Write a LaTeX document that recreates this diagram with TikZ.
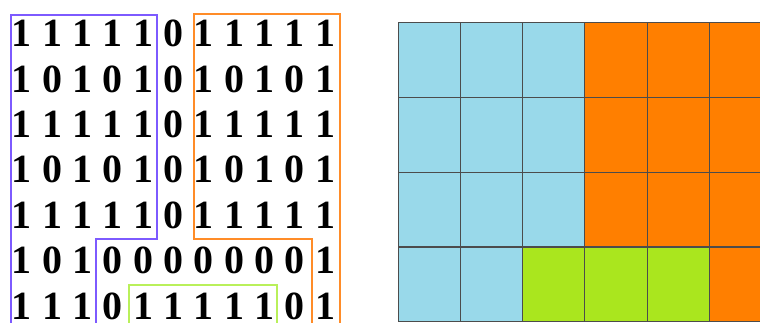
\documentclass[tikz,border=0pt]{standalone}
\usepackage{fontspec}
\setmainfont{Liberation Serif}
\usetikzlibrary{positioning}
\definecolor{mazeBlue}{RGB}{153,217,234}
\definecolor{mazeOrange}{RGB}{255,127,0}
\definecolor{mazeGreen}{RGB}{170,230,30}
\definecolor{pathPurple}{RGB}{125,90,255}
\definecolor{pathOrange}{RGB}{255,140,40}
\definecolor{pathGreen}{RGB}{185,240,90}

\begin{document}
\begin{tikzpicture}[x=1pt, y=-1pt,
    digit/.style={inner sep=0pt, font=\fontsize{40}{40}\selectfont\bfseries},
    outline/.style={line width=1.6pt, line join=miter},
    cell/.style={draw=black!70, line width=1.1pt}
  ]
  \clip (0,0) rectangle (760,323);

  % Bit matrix
  \foreach \r/\bits in {1/{1,1,1,1,1,0,1,1,1,1,1},
                        2/{1,0,1,0,1,0,1,0,1,0,1},
                        3/{1,1,1,1,1,0,1,1,1,1,1},
                        4/{1,0,1,0,1,0,1,0,1,0,1},
                        5/{1,1,1,1,1,0,1,1,1,1,1},
                        6/{1,0,1,0,0,0,0,0,0,0,1},
                        7/{1,1,1,0,1,1,1,1,1,0,1}}
    \foreach \b [count=\c] in \bits
      \node[digit] (d\r-\c) at ({22+30.3*(\c-1)}, {33.5+45.4*(\r-1)}) {\b};

  % Region outlines
  \draw[outline, pathPurple] (11,323) -- (11,15) -- (157,15) -- (157,239) -- (96,239) -- (96,323);
  \draw[outline, pathOrange] (312,323) -- (312,239) -- (194,239) -- (194,14) -- (340,14) -- (340,323);
  \draw[outline, pathGreen]  (129,323) -- (129,285) -- (277,285) -- (277,323);

  % Block map
  \foreach \r/\cols in {1/{mazeBlue,mazeBlue,mazeBlue,mazeOrange,mazeOrange,mazeOrange},
                        2/{mazeBlue,mazeBlue,mazeBlue,mazeOrange,mazeOrange,mazeOrange},
                        3/{mazeBlue,mazeBlue,mazeBlue,mazeOrange,mazeOrange,mazeOrange},
                        4/{mazeBlue,mazeBlue,mazeGreen,mazeGreen,mazeGreen,mazeOrange}}
    \foreach \col [count=\c] in \cols
      \filldraw[cell, fill=\col] ({398.3+62.2*(\c-1)}, {22.7+74.75*(\r-1)})
        rectangle ++(62.2, 74.75);
\end{tikzpicture}
\end{document}
